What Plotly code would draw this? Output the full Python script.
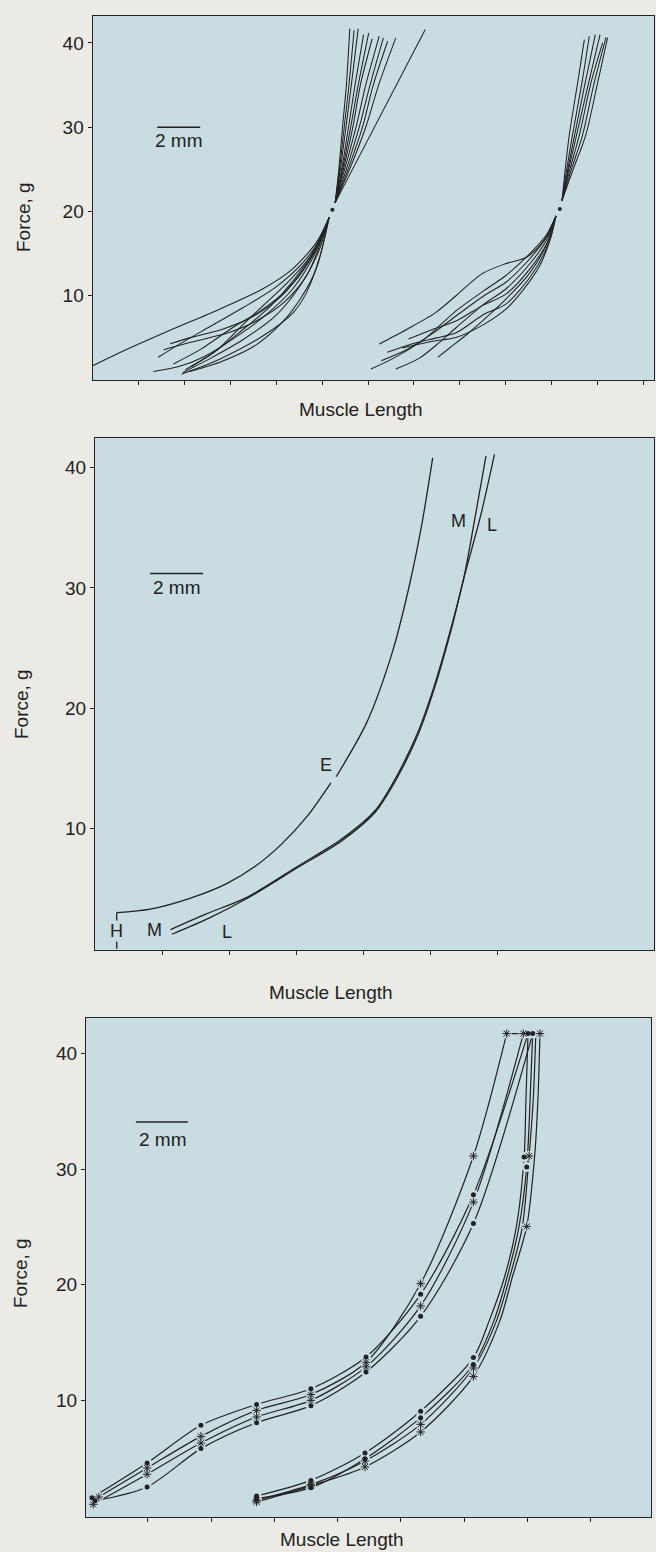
import plotly.graph_objects as go

# ======================= DATA =======================
# x values: muscle length in mm (arbitrary origin), y values: force in g

# ---- Panel A (top): individual curves normalised through a common point ----
a_left_lower_x = [
    [0.0, 1.3, 3.6, 5.9, 7.9, 9.3, 10.4, 11.0],
    [3.6, 4.5, 6.0, 7.5, 8.8, 9.9, 10.6, 11.0],
    [3.05, 4.0, 5.5, 7.0, 8.5, 9.8, 10.6, 11.0],
    [2.82, 4.0, 5.2, 6.6, 8.0, 9.3, 10.3, 11.0],
    [4.14, 5.93, 7.93, 9.33, 9.95, 10.57, 11.0],
    [4.2, 5.5, 7.0, 8.5, 9.6, 10.5, 11.0],
    [4.3, 5.6, 6.8, 8.2, 9.4, 10.4, 11.0],
    [4.5, 6.0, 7.5, 8.8, 9.7, 10.4, 11.0],
    [3.75, 5.0, 6.5, 7.8, 9.0, 10.0, 11.0],
    [4.6, 5.8, 7.0, 8.0, 9.0, 10.1, 11.0],
    [3.3, 4.6, 6.3, 7.6, 8.9, 10.0, 11.0],
]
a_left_lower_y = [
    [1.7, 3.3, 5.9, 8.4, 10.8, 13.2, 16.3, 19.3],
    [4.3, 5.0, 6.0, 7.6, 10.0, 13.5, 16.5, 19.3],
    [2.7, 4.2, 6.4, 8.6, 11.0, 14.0, 16.8, 19.3],
    [1.0, 1.6, 2.8, 5.0, 7.6, 10.8, 14.8, 19.3],
    [0.7, 2.5, 5.25, 8.0, 10.4, 14.7, 19.3],
    [0.9, 2.6, 4.8, 7.6, 11.0, 15.2, 19.3],
    [1.2, 3.2, 5.6, 8.6, 12.0, 15.8, 19.3],
    [1.0, 2.2, 4.0, 6.8, 9.8, 13.2, 19.3],
    [1.9, 3.6, 6.2, 8.2, 10.6, 13.8, 19.3],
    [1.6, 3.6, 6.6, 9.0, 11.4, 14.6, 19.3],
    [3.6, 4.5, 5.6, 7.0, 9.2, 12.6, 19.3],
]
a_left_upper_x = [
    [11.28, 11.45, 11.62, 11.80, 11.96],
    [11.28, 11.48, 11.70, 11.92, 12.16],
    [11.28, 11.52, 11.78, 12.03, 12.35],
    [11.28, 11.58, 11.90, 12.20, 12.60],
    [11.28, 11.62, 12.00, 12.35, 12.84],
    [11.28, 11.66, 12.10, 12.45, 13.00],
    [11.28, 11.72, 12.25, 12.70, 13.33],
    [11.28, 11.80, 12.40, 12.90, 13.52],
    [11.28, 11.88, 12.55, 13.05, 13.72],
    [11.28, 11.95, 12.70, 13.30, 14.10],
    [11.28, 15.47],
]
a_left_upper_y = [
    [21.05, 25, 30, 35, 41.7],
    [21.05, 25, 30, 35, 41.5],
    [21.05, 25, 30, 35, 41.7],
    [21.05, 25, 30, 35, 41.0],
    [21.05, 25, 30, 35, 41.2],
    [21.05, 25, 30, 35, 40.5],
    [21.05, 25, 30, 35, 40.8],
    [21.05, 25, 30, 35, 40.6],
    [21.05, 25, 30, 35, 40.2],
    [21.05, 25, 30, 35, 40.6],
    [21.05, 41.6],
]
a_right_lower_x = [
    [13.33, 14.6, 15.95, 16.9, 18.1, 19.2, 20.2, 21.0, 21.55],
    [12.94, 14.0, 15.4, 16.9, 18.2, 19.22, 20.3, 21.1, 21.55],
    [13.42, 14.6, 15.8, 16.9, 18.2, 19.22, 20.3, 21.1, 21.55],
    [14.1, 15.2, 16.1, 16.9, 18.2, 19.22, 20.4, 21.15, 21.55],
    [14.69, 15.8, 16.9, 18.1, 19.22, 20.4, 21.2, 21.55],
    [16.05, 16.6, 17.4, 18.3, 19.22, 20.3, 21.1, 21.55],
    [13.7, 15.0, 16.0, 16.9, 18.2, 19.22, 20.4, 21.2, 21.55],
    [14.4, 15.8, 16.9, 18.2, 19.22, 20.0, 20.78, 21.3, 21.55],
]
a_right_lower_y = [
    [4.27, 6.0, 8.0, 10.0, 12.6, 13.8, 14.6, 16.6, 19.47],
    [1.3, 2.6, 4.8, 8.2, 10.6, 12.4, 14.9, 17.2, 19.47],
    [2.29, 3.6, 5.5, 7.6, 10.0, 11.6, 14.3, 16.9, 19.47],
    [1.3, 2.6, 4.4, 6.2, 9.0, 10.8, 14.0, 16.8, 19.47],
    [4.86, 6.0, 7.0, 8.8, 10.2, 13.4, 16.6, 19.47],
    [2.69, 3.8, 5.4, 7.4, 9.6, 12.6, 16.0, 19.47],
    [3.3, 4.4, 5.0, 5.6, 7.8, 9.0, 12.4, 16.2, 19.47],
    [3.8, 4.6, 5.05, 6.6, 8.4, 10.6, 13.5, 16.8, 19.47],
]
a_right_upper_x = [
    [21.83, 21.98, 22.17, 22.56, 22.87],
    [21.83, 22.05, 22.32, 22.76, 23.10],
    [21.83, 22.10, 22.42, 22.91, 23.38],
    [21.83, 22.14, 22.51, 23.07, 23.60],
    [21.83, 22.20, 22.64, 23.18, 23.72],
    [21.83, 22.27, 22.79, 23.33, 23.88],
    [21.83, 22.35, 22.94, 23.49, 23.95],
]
a_right_upper_y = [
    [21.3, 25, 29.1, 35.3, 40.4],
    [21.3, 25, 29.1, 35.3, 40.8],
    [21.3, 25, 29.1, 35.3, 41.0],
    [21.3, 25, 29.1, 35.3, 41.0],
    [21.3, 25, 29.1, 35.3, 40.0],
    [21.3, 25, 29.1, 35.3, 40.7],
    [21.3, 25, 29.1, 35.3, 40.6],
]
a_dots_x = [11.15, 21.73]
a_dots_y = [20.2, 20.3]

# ---- Panel B (middle): mean curves H, M, L ----
b_H_lo_x = [0.82, 2.08, 3.58, 4.95, 6.07, 7.04, 8.0, 8.9]
b_H_lo_y = [3.0, 3.3, 4.2, 5.4, 6.9, 8.7, 11.0, 13.8]
b_H_hi_x = [9.1, 10.25, 11.21, 11.86, 12.34, 12.74]
b_H_hi_y = [14.3, 18.8, 24.6, 30.2, 35.4, 40.8]
b_H_stem_x = [0.82, 0.82]
b_H_stem_y = [0.0, 3.0]
b_M_x = [2.85, 4.2, 5.75, 7.68, 9.29, 10.57, 11.37, 12.18, 12.82, 13.46, 13.94, 14.35, 14.75]
b_M_y = [1.6, 2.9, 4.3, 6.9, 9.1, 11.5, 14.3, 18.0, 22.0, 26.9, 31.1, 36.0, 40.95]
b_L_x = [2.9, 4.3, 5.75, 7.68, 9.29, 10.57, 11.37, 12.18, 12.82, 13.46, 13.94, 14.55, 15.07]
b_L_y = [1.21, 2.55, 4.2, 6.8, 8.95, 11.35, 14.1, 17.75, 21.75, 26.7, 31.0, 36.0, 41.1]
b_labels = ["H", "M", "L", "E", "M", "L"]
b_label_x = [0.82, 2.26, 4.98, 8.72, 13.7, 14.99]
b_label_y = [1.5, 1.55, 1.39, 15.25, 35.56, 35.25]

# ---- Panel C (bottom): repeated loading curves with sampled points ----
c_up_x = [
    [0.23, 2.35, 4.42, 6.56, 8.65, 10.77, 12.87, 14.9, 17.0],
    [0.49, 2.35, 4.42, 6.56, 8.65, 10.77, 12.87, 14.9, 16.18],
    [0.28, 2.35, 4.42, 6.56, 8.65, 10.77, 12.87, 14.9, 16.82],
    [0.35, 2.35, 4.42, 6.56, 8.65, 10.77, 12.87, 14.9, 17.18],
]
c_up_y = [
    [1.57, 4.57, 7.84, 9.65, 11.0, 13.75, 19.18, 27.8, 41.75],
    [1.63, 4.14, 6.88, 9.13, 10.5, 13.3, 20.1, 31.15, 41.75],
    [1.0, 3.6, 6.3, 8.56, 10.0, 12.9, 18.17, 27.16, 41.75],
    [1.3, 2.5, 5.82, 8.07, 9.54, 12.45, 17.27, 25.3, 41.75],
]
c_up_symbol = ["dot", "star", "star", "dot"]
c_up_marked = [[0, 1, 2, 3, 4, 5, 6, 7, 8]] * 4
c_dn_x = [
    [6.56, 8.65, 10.73, 12.87, 14.9, 15.51, 16.1, 16.55, 16.85, 16.92, 17.0],
    [6.56, 8.65, 10.73, 12.87, 14.9, 15.69, 16.2, 16.65, 16.95, 17.08, 17.18],
    [6.56, 8.65, 10.73, 12.87, 14.9, 15.79, 16.3, 16.78, 17.04, 17.2, 17.3],
    [6.56, 8.65, 10.73, 12.87, 14.9, 15.92, 16.4, 16.95, 17.25, 17.38, 17.46],
]
c_dn_y = [
    [1.72, 3.07, 5.44, 9.05, 13.7, 16.9, 20.7, 25.0, 31.06, 36.0, 41.75],
    [1.5, 2.44, 4.95, 8.5, 13.1, 16.9, 20.7, 25.0, 30.2, 36.0, 41.75],
    [1.35, 2.7, 4.75, 7.92, 12.8, 16.9, 20.7, 25.0, 31.15, 36.0, 41.75],
    [1.2, 2.6, 4.23, 7.26, 12.07, 16.9, 20.7, 25.06, 31.0, 36.0, 41.75],
]
c_dn_symbol = ["dot", "dot", "star", "star"]
c_dn_marked = [[0, 1, 2, 3, 4, 8], [0, 1, 2, 3, 4, 8], [0, 1, 2, 3, 4, 8], [0, 1, 2, 3, 4, 7, 10]]
c_top_link_x = [16.18, 17.46]
c_top_link_y = [41.75, 41.75]

# scale bars: 2 mm each
bar_len_mm = 2.0
bar_x0 = [3.0, 2.08, 1.92]
bar_y = [30.0, 31.2, 34.1]
bar_text_x = [4.0, 3.1, 2.98]
bar_text_y = [28.4, 30.0, 32.6]

y_ticks = [10, 20, 30, 40]
x_ticks_a = [2.135, 4.27, 6.405, 8.54, 10.675, 12.81, 14.945, 17.08, 19.215, 21.35, 23.485, 25.62]
x_ticks_b = [2.53, 5.06, 7.59, 10.12, 12.65, 15.18]
x_ticks_c = [2.373, 4.808, 7.243, 9.678, 12.113, 14.548, 16.983, 19.418]

# ======================= STYLE =======================
W, H = 656, 1552
PAPER = "#ebeae5"
PLOT = "#c8dce1"
INK = "#222222"
FONT = "Liberation Sans, Arial, Helvetica, sans-serif"

fig = go.Figure()


def line(x, y, ax, w=1.0, shape="spline", color=INK):
    fig.add_trace(go.Scatter(
        x=x, y=y, mode="lines", xaxis="x" + ax, yaxis="y" + ax,
        line=dict(color=color, width=w, shape=shape, smoothing=0.8),
        showlegend=False, hoverinfo="skip"))


# Panel A
for xs, ys in zip(a_left_lower_x, a_left_lower_y):
    line(xs, ys, "", 1.05)
for xs, ys in zip(a_left_upper_x, a_left_upper_y):
    line(xs, ys, "", 1.05)
for xs, ys in zip(a_right_lower_x, a_right_lower_y):
    line(xs, ys, "", 1.05)
for xs, ys in zip(a_right_upper_x, a_right_upper_y):
    line(xs, ys, "", 1.05)
fig.add_trace(go.Scatter(x=a_dots_x, y=a_dots_y, mode="markers", xaxis="x", yaxis="y",
                         marker=dict(color=INK, size=4), showlegend=False, hoverinfo="skip"))

# Panel B
line(b_H_stem_x, b_H_stem_y, "2", 1.3, "linear")
line(b_H_lo_x, b_H_lo_y, "2", 1.3)
line(b_H_hi_x, b_H_hi_y, "2", 1.3)
line(b_M_x, b_M_y, "2", 1.3)
line(b_L_x, b_L_y, "2", 1.3)

# Panel C lines
for xs, ys in zip(c_up_x, c_up_y):
    line(xs, ys, "3", 1.2)
for xs, ys in zip(c_dn_x, c_dn_y):
    line(xs, ys, "3", 1.2)
line(c_top_link_x, c_top_link_y, "3", 1.2, "linear")

# gaps around sampled points, then the markers
mk = {"dot": [[], []], "star": [[], []]}
for group in ((c_up_x, c_up_y, c_up_symbol, c_up_marked), (c_dn_x, c_dn_y, c_dn_symbol, c_dn_marked)):
    for xs, ys, sym, idx in zip(*group):
        for i in idx:
            mk[sym][0].append(xs[i])
            mk[sym][1].append(ys[i])
all_x = mk["dot"][0] + mk["star"][0]
all_y = mk["dot"][1] + mk["star"][1]
fig.add_trace(go.Scatter(x=all_x, y=all_y, mode="markers", xaxis="x3", yaxis="y3",
                         marker=dict(color=PLOT, size=10, line=dict(width=0)),
                         showlegend=False, hoverinfo="skip"))
fig.add_trace(go.Scatter(x=mk["dot"][0], y=mk["dot"][1], mode="markers", xaxis="x3", yaxis="y3",
                         marker=dict(color=INK, size=5, symbol="circle"),
                         showlegend=False, hoverinfo="skip"))
fig.add_trace(go.Scatter(x=mk["star"][0], y=mk["star"][1], mode="markers", xaxis="x3", yaxis="y3",
                         marker=dict(color=INK, size=7, symbol="asterisk-open", line=dict(color=INK, width=1)),
                         showlegend=False, hoverinfo="skip"))

# scale bars
ann = []
for k, ax in enumerate(["", "2", "3"]):
    line([bar_x0[k], bar_x0[k] + bar_len_mm], [bar_y[k], bar_y[k]], ax, 1.4, "linear")
    ann.append(dict(x=bar_text_x[k], y=bar_text_y[k], xref="x" + ax, yref="y" + ax,
                    xanchor="center", yanchor="middle",
                    text="2 mm", showarrow=False, font=dict(family=FONT, size=19, color=INK)))

# panel B curve labels
for t, lx, ly in zip(b_labels, b_label_x, b_label_y):
    a = dict(x=lx, y=ly, xref="x2", yref="y2", text=t, showarrow=False,
             xanchor="center", yanchor="middle",
             font=dict(family=FONT, size=18, color=INK))
    if t == "H":
        a.update(bgcolor=PLOT, borderpad=0)
    ann.append(a)


def paper(px, py):
    return px / W, 1 - py / H


# axis titles as annotations (pixel positions)
for (fx, fy) in [(24, 217), (22, 704), (20, 1273)]:
    x, y = paper(fx, fy)
    ann.append(dict(x=x, y=y, xref="paper", yref="paper", text="Force, g", textangle=-90,
                    xanchor="center", yanchor="middle",
                    showarrow=False, font=dict(family=FONT, size=19, color=INK)))
for (mx, my) in [(361, 410), (331, 993), (342, 1539)]:
    x, y = paper(mx, my)
    ann.append(dict(x=x, y=y, xref="paper", yref="paper", text="Muscle Length",
                    xanchor="center", yanchor="middle",
                    showarrow=False, font=dict(family=FONT, size=19, color=INK)))

frame = dict(showline=True, linecolor=INK, linewidth=1.3, mirror=True, showgrid=False,
             zeroline=False, ticks="outside", ticklen=4, tickwidth=1, tickcolor=INK,
             fixedrange=True)


def xdom(l, r):
    return [l / W, r / W]


def ydom(t, b):
    return [1 - b / H, 1 - t / H]


fig.update_layout(
    width=W, height=H, autosize=False,
    margin=dict(l=0, r=0, t=0, b=0),
    paper_bgcolor=PAPER, plot_bgcolor=PLOT,
    font=dict(family=FONT, color=INK),
    showlegend=False,
    xaxis=dict(frame, domain=xdom(92.7, 654), range=[0, 26.11], anchor="y",
               tickvals=x_ticks_a, showticklabels=False),
    yaxis=dict(frame, domain=ydom(16, 380), range=[0, 43.2], anchor="x",
               tickvals=y_ticks, tickfont=dict(size=19, family=FONT, color=INK)),
    xaxis2=dict(frame, domain=xdom(95, 654), range=[0, 21.09], anchor="y2",
                tickvals=x_ticks_b, showticklabels=False),
    yaxis2=dict(frame, domain=ydom(437.5, 950), range=[-0.1, 42.5], anchor="x2",
                tickvals=y_ticks, tickfont=dict(size=19, family=FONT, color=INK)),
    xaxis3=dict(frame, domain=xdom(86, 651), range=[0, 21.73], anchor="y3",
                tickvals=x_ticks_c, showticklabels=False),
    yaxis3=dict(frame, domain=ydom(1018, 1517), range=[-0.1, 43.1], anchor="x3",
                tickvals=y_ticks, tickfont=dict(size=19, family=FONT, color=INK)),
    annotations=ann,
)

fig.write_html(
    "out.html",
    config={"displayModeBar": False},
    post_script="document.body.style.margin='0px';document.body.style.background='#ebeae5';",
)
